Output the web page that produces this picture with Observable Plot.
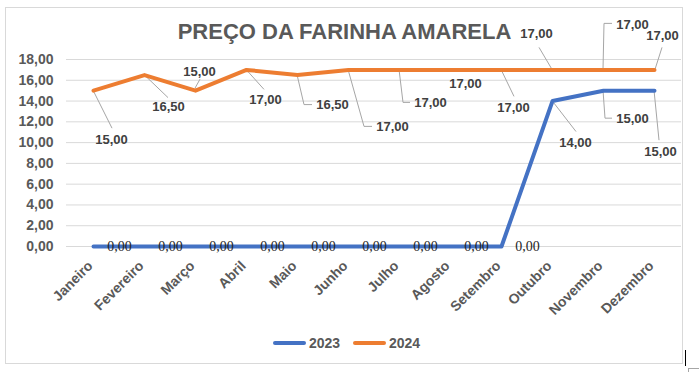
<!DOCTYPE html>
<html>
<head>
<meta charset="utf-8">
<script src="https://cdn.jsdelivr.net/npm/d3@7"></script>
<script src="https://cdn.jsdelivr.net/npm/@observablehq/plot@0.6"></script>
<style>
  html, body { margin: 0; padding: 0; background: #fff; }
  #wrap { position: relative; width: 699px; height: 372px; background: #fff; font-family: "Liberation Sans", Arial, sans-serif; overflow: hidden; }
  #frame { position: absolute; left: 5px; top: 7px; width: 678px; height: 357px; border: 1px solid #d9d9d9; box-sizing: border-box; }
  #title { position: absolute; left: 0; width: 689px; top: 21px; text-align: center; font-size: 22px; line-height: 22px; font-weight: bold; color: #595959; white-space: nowrap; }
  #chart { position: absolute; left: 0; top: 0; }
  .sw { position: absolute; height: 4px; top: 341px; width: 33px; border-radius: 2px; }
  .lt { position: absolute; top: 336px; font-size: 14px; line-height: 14px; font-weight: bold; color: #595959; }
</style>
</head>
<body>
<div id="wrap">
  <div id="frame"></div>
  <div id="title"></div>
  <div id="chart"></div>
  <div id="legend"></div>
  <div style="position:absolute;left:685px;top:350px;width:1px;height:16px;background:#000"></div>
  <div style="position:absolute;left:688px;top:368px;width:12px;height:8px;border:1px solid #a6a6a6;box-sizing:border-box"></div>
</div>
<script>
// ---- data ----
const title = "PREÇO DA FARINHA AMARELA";
const months = ["Janeiro","Fevereiro","Março","Abril","Maio","Junho","Julho","Agosto","Setembro","Outubro","Novembro","Dezembro"];
const values2023 = [0,0,0,0,0,0,0,0,0,14,15,15];
const values2024 = [15,16.5,15,17,16.5,17,17,17,17,17,17,17];
const seriesNames = ["2023","2024"];
const yTicks = [0,2,4,6,8,10,12,14,16,18];

// ---- label layout (pixel offsets from each point, leader polylines) ----
const layout2023 = [
  {dx:26,dy:0,serif:true},{dx:26,dy:0,serif:true},{dx:26,dy:0,serif:true},
  {dx:26,dy:0,serif:true},{dx:26,dy:0,serif:true},{dx:26,dy:0,serif:true},
  {dx:26,dy:0,serif:true},{dx:26,dy:0,serif:true},{dx:26,dy:0,serif:true},
  {dx:23,dy:42,leader:[[0,0],[24,31]]},
  {dx:29,dy:28,leader:[[0,0],[2,28],[9,28]]},
  {dx:6,dy:61,leader:[[0,0],[5,50]]}
];
const layout2024 = [
  {dx:18,dy:49,leader:[[0,0],[19,38]]},
  {dx:24,dy:32,leader:[[0,0],[24,23]]},
  {dx:4,dy:-19,leader:[[0,-2],[5,-11]]},
  {dx:19,dy:30,leader:[[0,0],[18,20]]},
  {dx:35,dy:30,leader:[[0,0],[7,30],[15,30]]},
  {dx:44,dy:57,leader:[[0,0],[16,57],[24,57]]},
  {dx:31,dy:33,leader:[[0,0],[4,33],[11,33]]},
  {dx:15,dy:14},
  {dx:12,dy:38,leader:[[0,0],[13,27]]},
  {dx:-16,dy:-36,leader:[[0,0],[-13,-22]]},
  {dx:29,dy:-45,leader:[[0,0],[1,-46],[9,-46]]},
  {dx:8,dy:-34,leader:[[1,0],[8,-22]]}
];
const colors = ["#4472C4","#ED7D31"];

const fmt = v => v.toFixed(2).replace(".", ",");
const rows = months.flatMap((m, i) => [
  {month: m, year: seriesNames[0], value: values2023[i], i},
  {month: m, year: seriesNames[1], value: values2024[i], i}
]);
const series = [
  {name: seriesNames[0], values: values2023, layout: layout2023},
  {name: seriesNames[1], values: values2024, layout: layout2024}
];

document.getElementById("title").textContent = title;

const labelMarks = [];
for (const s of series) {
  s.layout.forEach((L, i) => {
    const row = {month: months[i], value: s.values[i]};
    labelMarks.push(Plot.text([row], {
      x: "month", y: "value", text: d => fmt(d.value),
      dx: L.dx, dy: L.dy,
      fontSize: L.serif ? 14 : 13,
      fontWeight: L.serif ? "normal" : "bold",
      fontFamily: L.serif ? "Liberation Serif, Times New Roman, serif" : "Liberation Sans, Arial, sans-serif",
      fill: L.serif ? "#262626" : "#404040",
      textAnchor: "middle", lineAnchor: "middle"
    }));
  });
}

const leaders = (index, scales) => {
  const g = d3.create("svg:g").attr("fill", "none").attr("stroke", "#a6a6a6").attr("stroke-width", 1);
  for (const s of series) {
    s.layout.forEach((L, i) => {
      if (!L.leader) return;
      const px = scales.x(months[i]), py = scales.y(s.values[i]);
      g.append("path").attr("d", d3.line()(L.leader.map(([a, b]) => [px + a, py + b])));
    });
  }
  return g.node();
};

const chart = Plot.plot({
  width: 699, height: 372,
  marginLeft: 66, marginRight: 18, marginTop: 59, marginBottom: 126,
  style: {background: "transparent", fontFamily: "Liberation Sans, Arial, sans-serif", overflow: "visible"},
  x: {type: "point", domain: months, padding: 0.5, axis: null},
  y: {domain: [0, 18], axis: null, label: null},
  color: {domain: seriesNames, range: colors},
  marks: [
    Plot.gridY(yTicks, {stroke: "#d9d9d9", strokeOpacity: 1, strokeWidth: 1}),
    Plot.axisY(yTicks, {label: null, tickSize: 0, tickPadding: 13, tickFormat: fmt, fontSize: 14, fontWeight: "bold", fill: "#595959"}),
    Plot.text(months, {x: d => d, frameAnchor: "bottom", rotate: -45, textAnchor: "end", lineAnchor: "middle", dy: 17, dx: -3, fontSize: 14, fontWeight: "bold", fill: "#595959"}),
    leaders,
    Plot.line(rows, {x: "month", y: "value", z: "year", stroke: "year", strokeWidth: 4, strokeLinejoin: "round", strokeLinecap: "round"}),
    ...labelMarks
  ]
});
document.getElementById("chart").appendChild(chart);

// legend
const legend = document.getElementById("legend");
const legendPos = [{sw: 273, tx: 309}, {sw: 353, tx: 389}];
seriesNames.forEach((name, k) => {
  const sw = document.createElement("div");
  sw.className = "sw"; sw.style.left = legendPos[k].sw + "px"; sw.style.background = colors[k];
  const t = document.createElement("div");
  t.className = "lt"; t.style.left = legendPos[k].tx + "px"; t.textContent = name;
  legend.appendChild(sw); legend.appendChild(t);
});
</script>
</body>
</html>
